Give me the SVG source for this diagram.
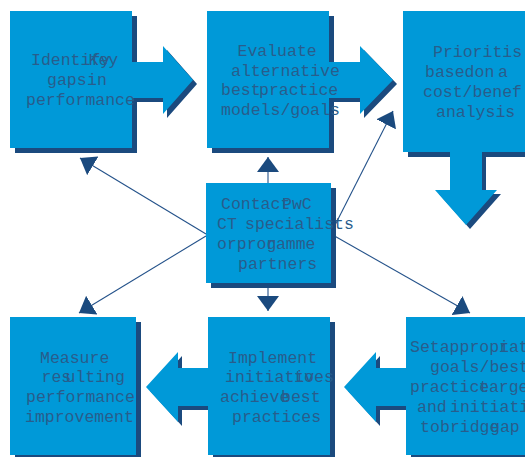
<svg xmlns="http://www.w3.org/2000/svg" width="525" height="457" viewBox="0 0 525 457">
<defs>
<style>
.box{fill:#0099d8}
.sh{fill:#1b4a7e}
.t{font-family:"Liberation Mono","DejaVu Sans Mono",monospace;font-size:16.5px;fill:#285d8c}
.ln{stroke:#24528a;stroke-width:1.1;fill:none;marker-end:url(#ah)}
.ar{fill:#0099d8}
</style>
<marker id="ah" markerUnits="userSpaceOnUse" markerWidth="16" markerHeight="22" refX="15" refY="11" orient="auto" viewBox="0 0 16 22">
<path d="M0,0 L15,11 L0,22 z" fill="#1b4a7e"/>
</marker>
</defs>
<rect width="525" height="457" fill="#ffffff"/>

<g id="connectors">
<polygon class="sh" points="136,66 167,66 167,50 197,84 167,118 167,102 136,102"/>
<polygon class="ar" points="130,62 163,62 163,46 193,80 163,114 163,98 130,98"/>
<polygon class="sh" points="333,66 364,66 364,50 397,84 364,118 364,102 333,102"/>
<polygon class="ar" points="327,62 360,62 360,46 393,80 360,114 360,98 327,98"/>
<polygon class="sh" points="454,152 486,152 486,194 501,194 470,229 439,194 454,194"/>
<polygon class="ar" points="450,150 482,150 482,190 497,190 466,225 435,190 450,190"/>
<polygon class="sh" points="210,372 182,372 182,356 150,391 182,426 182,410 210,410"/>
<polygon class="ar" points="210,368 178,368 178,352 146,387 178,422 178,406 210,406"/>
<polygon class="sh" points="408,372 380,372 380,356 348,391 380,426 380,410 408,410"/>
<polygon class="ar" points="408,368 376,368 376,352 344,387 376,422 376,406 408,406"/>
<line class="ln" x1="268" y1="183" x2="268" y2="157"/>
<line class="ln" x1="268" y1="283" x2="268" y2="311"/>
<line class="ln" x1="206" y1="234" x2="80" y2="158"/>
<line class="ln" x1="206" y1="236" x2="79" y2="313"/>
<line class="ln" x1="331" y1="233" x2="393" y2="111"/>
<line class="ln" x1="331" y1="234" x2="470" y2="313"/>
</g>

<g id="node-identify">
<path class="sh" d="M132,16 H137 V62 H132 Z M132,98 H137 V153 H15 V148 H132 Z"/>
<rect class="box" x="10" y="11" width="122" height="137"/>
<text class="t" x="31" y="65">Identify</text>
<text class="t" x="88.5" y="65">Key</text>
<text class="t" x="47" y="85">gaps</text>
<text class="t" x="87" y="85">in</text>
<text class="t" x="26" y="105">performance</text>
</g>

<g id="node-evaluate">
<path class="sh" d="M329,16 H334 V62 H329 Z M329,98 H334 V153 H212 V148 H329 Z"/>
<rect class="box" x="207" y="11" width="122" height="137"/>
<text class="t" x="237.5" y="56">Evaluate</text>
<text class="t" x="231" y="76">alternative</text>
<text class="t" x="221" y="95">best</text>
<text class="t" x="259" y="95">practice</text>
<text class="t" x="221" y="115">models/goals</text>
</g>

<g id="node-prioritise">
<path class="sh" d="M408,152 H450 V157 H408 Z M482,152 H538 V157 H482 Z"/>
<rect class="box" x="403" y="11" width="130" height="141"/>
<text class="t" x="433" y="57">Prioritis</text>
<text class="t" x="425" y="77">basedon</text>
<text class="t" x="498" y="77">a</text>
<text class="t" x="423" y="97">cost/benef</text>
<text class="t" x="436" y="117">analysis</text>
</g>

<g id="node-contact">
<rect class="sh" x="211" y="188" width="125" height="100"/>
<rect class="box" x="206" y="183" width="125" height="100"/>
<text class="t" x="221" y="209">Contact</text>
<text class="t" x="282" y="209">PwC</text>
<text class="t" x="217" y="229">CT</text>
<text class="t" x="245" y="229">specialists</text>
<text class="t" x="217" y="249">orprog</text>
<text class="t" x="266" y="249">ramme</text>
<text class="t" x="238" y="269">partners</text>
</g>

<g id="node-measure">
<rect class="sh" x="15" y="322" width="126" height="140"/>
<rect class="box" x="10" y="317" width="126" height="138"/>
<text class="t" x="40" y="363">Measure</text>
<text class="t" x="41.5" y="382">res</text>
<text class="t" x="65.5" y="382">ulting</text>
<text class="t" x="26" y="402">performance</text>
<text class="t" x="25" y="422">improvement</text>
</g>

<g id="node-implement">
<rect class="sh" x="213" y="322" width="122" height="140"/>
<rect class="box" x="208" y="317" width="122" height="138"/>
<text class="t" x="228" y="363">Implement</text>
<text class="t" x="225" y="382">initiatives</text>
<text class="t" x="294" y="382">to</text>
<text class="t" x="220" y="402">achieve</text>
<text class="t" x="281" y="402">best</text>
<text class="t" x="232" y="422">practices</text>
</g>

<g id="node-set">
<rect class="sh" x="411" y="322" width="130" height="140"/>
<rect class="box" x="406" y="317" width="130" height="138"/>
<text class="t" x="410" y="352">Setappropr</text>
<text class="t" x="499" y="352">iat</text>
<text class="t" x="430" y="372">goals/best</text>
<text class="t" x="410" y="392">practice</text>
<text class="t" x="479" y="392">targe</text>
<text class="t" x="417" y="412">and</text>
<text class="t" x="450" y="412">initiati</text>
<text class="t" x="420" y="432">to</text>
<text class="t" x="440" y="432">bridge</text>
<text class="t" x="490" y="432">gap</text>
</g>
</svg>
